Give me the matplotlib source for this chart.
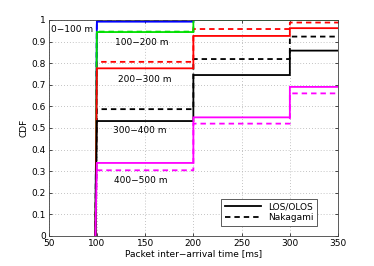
import matplotlib
matplotlib.use("Agg")
import matplotlib.pyplot as plt
import numpy as np

# step instants of the inter-arrival time [ms]
t_start = 98.5
t_steps = [100, 200, 300]
t_end = 350

ranges = ["0\u2212100 m", "100\u2212200 m", "200\u2212300 m", "300\u2212400 m", "400\u2212500 m"]
colors = ["#0000ff", "#00e000", "#ff0000", "#000000", "#ff00ff"]

# CDF level after each step, LOS/OLOS model
cdf_los = [
    [0.992, 1.0, 1.0],
    [0.944, 1.0, 1.0],
    [0.776, 0.926, 0.962],
    [0.532, 0.745, 0.858],
    [0.338, 0.549, 0.690],
]
# CDF level after each step, Nakagami model
cdf_nak = [
    [0.998, 1.0, 1.0],
    [0.946, 1.0, 1.0],
    [0.806, 0.958, 0.988],
    [0.587, 0.819, 0.923],
    [0.304, 0.520, 0.660],
]

label_x = [74, 146, 150, 144, 145]
label_y = [0.954, 0.895, 0.724, 0.49, 0.256]


def stair(levels):
    xs = [t_start]
    ys = [0.0]
    for i, t in enumerate(t_steps):
        xs.append(t)
        ys.append(ys[-1] if i > 0 else levels[0])
        if i > 0:
            xs.append(t)
            ys.append(levels[i])
    xs.append(t_end)
    ys.append(levels[-1])
    return xs, ys


plt.rcParams["font.family"] = "DejaVu Sans"
fig = plt.figure(figsize=(3.74, 2.66), dpi=100)
ax = fig.add_axes([0.130, 0.113, 0.774, 0.812])

# Nakagami dashed curves underneath, LOS/OLOS solid on top
for k in range(len(ranges)):
    xs, ys = stair(cdf_nak[k])
    ax.plot(xs, ys, color=colors[k], lw=1.3, ls=(0, (3, 2.2)))
for k in range(len(ranges)):
    xs, ys = stair(cdf_los[k])
    ax.plot(xs, ys, color=colors[k], lw=1.3, solid_joinstyle="miter")

for k, name in enumerate(ranges):
    ax.text(label_x[k], label_y[k], name, fontsize=6.5, ha="center", va="center")

ax.set_xlim(50, 350)
ax.set_ylim(0, 1)
ax.set_xticks([50, 100, 150, 200, 250, 300, 350])
ax.set_yticks(np.arange(0, 1.01, 0.1))
ax.set_yticklabels(["0", "0.1", "0.2", "0.3", "0.4", "0.5", "0.6", "0.7", "0.8", "0.9", "1"])
ax.tick_params(direction="in", labelsize=6.5, length=2.5, width=0.5, top=True, right=True, pad=2)
ax.grid(True, ls=(0, (1, 2.5)), color="#b0b0b0", lw=0.6)
for s in ax.spines.values():
    s.set_linewidth(0.6)
    s.set_color("#404040")
ax.set_xlabel("Packet inter\u2212arrival time [ms]", fontsize=6.5, labelpad=1)
ax.set_ylabel("CDF", fontsize=6.5, labelpad=2)

h1, = ax.plot([], [], color="k", lw=1.3)
h2, = ax.plot([], [], color="k", lw=1.3, ls=(0, (3, 2.2)))
leg = ax.legend([h1, h2], ["LOS/OLOS", "Nakagami"], fontsize=6.5, loc="lower left",
                bbox_to_anchor=(0.58, 0.025), fancybox=False, framealpha=1,
                edgecolor="#404040", handlelength=4.0, borderpad=0.4, labelspacing=0.25,
                handletextpad=0.8)
leg.get_frame().set_linewidth(0.6)

fig.savefig("out.png", dpi=100)
